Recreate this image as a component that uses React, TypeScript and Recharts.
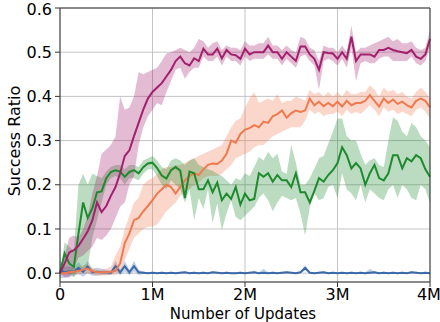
import React from 'react';
import { ComposedChart, Line, Area, XAxis, YAxis, CartesianGrid, ReferenceLine, Label } from 'recharts';

const STEP = 50000;
const xTicks = [0, 1000000, 2000000, 3000000, 4000000];
const xTickLabels = ['0', '1M', '2M', '3M', '4M'];
const yTicks = [0, 0.1, 0.2, 0.3, 0.4, 0.5, 0.6];

// magenta run
const magentaMean = [
  0, 0.022, 0.047, 0.052, 0.062, 0.078, 0.095, 0.12, 0.16, 0.138,
  0.152, 0.175, 0.195, 0.226, 0.265, 0.278, 0.31, 0.34, 0.37, 0.395,
  0.41, 0.42, 0.43, 0.445, 0.46, 0.48, 0.49, 0.475, 0.47, 0.486,
  0.48, 0.508, 0.495, 0.495, 0.508, 0.486, 0.505, 0.495, 0.493, 0.485,
  0.508, 0.495, 0.5, 0.5, 0.5, 0.515, 0.5, 0.5, 0.485, 0.5,
  0.49, 0.48, 0.513, 0.513, 0.495, 0.485, 0.46, 0.5, 0.498, 0.497,
  0.485, 0.5, 0.485, 0.535, 0.48, 0.495, 0.495, 0.495, 0.49, 0.505,
  0.505, 0.51, 0.505, 0.502, 0.5, 0.498, 0.505, 0.49, 0.485, 0.495,
  0.53,
];
const magentaLo = [
  0, -0.01, -0.01, 0.01, 0.035, 0.04, 0.05, 0.06, 0.08, 0.075,
  0.085, 0.1, 0.125, 0.15, 0.16, 0.2, 0.22, 0.29, 0.33, 0.355,
  0.37, 0.385, 0.38, 0.41, 0.435, 0.46, 0.465, 0.44, 0.455, 0.465,
  0.465, 0.49, 0.48, 0.48, 0.49, 0.47, 0.49, 0.48, 0.48, 0.47,
  0.49, 0.48, 0.485, 0.485, 0.485, 0.495, 0.485, 0.485, 0.47, 0.485,
  0.475, 0.465, 0.49, 0.495, 0.48, 0.47, 0.415, 0.48, 0.485, 0.48,
  0.47, 0.485, 0.465, 0.51, 0.435, 0.475, 0.48, 0.475, 0.475, 0.485,
  0.49, 0.49, 0.48, 0.48, 0.48, 0.48, 0.49, 0.475, 0.47, 0.48,
  0.51,
];
const magentaHi = [
  0, 0.04, 0.08, 0.085, 0.08, 0.1, 0.13, 0.18, 0.22, 0.27,
  0.28, 0.29, 0.31, 0.4, 0.37, 0.375, 0.4, 0.455, 0.45, 0.455,
  0.46, 0.465, 0.48, 0.497, 0.5, 0.505, 0.51, 0.505, 0.5, 0.51,
  0.53, 0.525, 0.51, 0.52, 0.525, 0.505, 0.515, 0.51, 0.51, 0.505,
  0.525, 0.515, 0.515, 0.52, 0.52, 0.535, 0.515, 0.515, 0.505, 0.515,
  0.505, 0.5, 0.535, 0.53, 0.51, 0.505, 0.48, 0.515, 0.51, 0.51,
  0.5, 0.515, 0.5, 0.56, 0.5, 0.51, 0.51, 0.515, 0.52, 0.525,
  0.53, 0.535, 0.525, 0.53, 0.52, 0.52, 0.525, 0.51, 0.505, 0.51,
  0.55,
];

// orange run
const orangeMean = [
  0, 0, 0.002, 0.003, 0.005, 0.008, 0.01, 0.005, 0.002, 0.002,
  0.002, 0.003, 0.005, 0.022, 0.068, 0.09, 0.12, 0.125, 0.14, 0.152,
  0.165, 0.18, 0.19, 0.2, 0.195, 0.18, 0.195, 0.21, 0.22, 0.226,
  0.222, 0.235, 0.245, 0.248, 0.247, 0.255, 0.27, 0.3, 0.295, 0.315,
  0.325, 0.328, 0.335, 0.33, 0.343, 0.34, 0.355, 0.36, 0.368, 0.352,
  0.362, 0.368, 0.365, 0.368, 0.395, 0.38, 0.388, 0.378, 0.385, 0.378,
  0.388, 0.377, 0.39, 0.38, 0.385, 0.385, 0.39, 0.403, 0.39, 0.377,
  0.395, 0.385, 0.393, 0.383, 0.388, 0.38, 0.375, 0.39, 0.395, 0.39,
  0.375,
];
const orangeLo = [
  0, -0.005, -0.005, -0.003, -0.003, 0, 0, -0.003, -0.005, -0.005,
  -0.005, -0.004, -0.005, 0.005, 0.03, 0.055, 0.08, 0.09, 0.1, 0.105,
  0.105, 0.11, 0.125, 0.14, 0.15, 0.16, 0.175, 0.185, 0.19, 0.2,
  0.205, 0.215, 0.22, 0.22, 0.22, 0.225, 0.235, 0.245, 0.26, 0.265,
  0.27, 0.275, 0.285, 0.29, 0.29, 0.3, 0.31, 0.315, 0.32, 0.325,
  0.33, 0.33, 0.33, 0.345, 0.37, 0.36, 0.365, 0.355, 0.36, 0.36,
  0.365, 0.355, 0.37, 0.36, 0.365, 0.36, 0.37, 0.38, 0.37, 0.355,
  0.375, 0.365, 0.37, 0.36, 0.365, 0.36, 0.355, 0.37, 0.375, 0.365,
  0.35,
];
const orangeHi = [
  0, 0.005, 0.008, 0.01, 0.012, 0.018, 0.02, 0.012, 0.008, 0.008,
  0.01, 0.015, 0.04, 0.06, 0.1, 0.13, 0.16, 0.17, 0.2, 0.21,
  0.215, 0.225, 0.235, 0.24, 0.24, 0.245, 0.245, 0.25, 0.255, 0.26,
  0.265, 0.27, 0.275, 0.28, 0.285, 0.29, 0.31, 0.33, 0.345, 0.35,
  0.375, 0.395, 0.41, 0.385, 0.39, 0.395, 0.39, 0.405, 0.385, 0.39,
  0.39, 0.4, 0.395, 0.39, 0.415, 0.405, 0.41, 0.4, 0.41, 0.4,
  0.41, 0.4, 0.415, 0.405, 0.405, 0.41, 0.41, 0.425, 0.415, 0.4,
  0.42, 0.41, 0.415, 0.405, 0.41, 0.4, 0.395, 0.41, 0.42, 0.41,
  0.395,
];

// green run
const greenMean = [
  0, 0.045, 0.022, 0.014, 0.09, 0.16, 0.125, 0.147, 0.183, 0.185,
  0.215, 0.229, 0.233, 0.23, 0.218, 0.229, 0.233, 0.226, 0.24, 0.248,
  0.25, 0.238, 0.221, 0.214, 0.233, 0.24, 0.232, 0.17, 0.23, 0.226,
  0.19, 0.19, 0.21, 0.183, 0.205, 0.165, 0.18, 0.168, 0.195, 0.155,
  0.18, 0.165, 0.168, 0.226, 0.218, 0.226, 0.207, 0.222, 0.21, 0.21,
  0.195, 0.226, 0.183, 0.183, 0.16, 0.186, 0.215, 0.207, 0.222, 0.233,
  0.249, 0.285, 0.267, 0.237, 0.249, 0.237, 0.2, 0.226, 0.245, 0.215,
  0.21, 0.226, 0.267, 0.267, 0.237, 0.26, 0.253, 0.267, 0.26, 0.235,
  0.218,
];
const greenLo = [
  0, 0, 0, -0.01, 0.01, 0.01, 0.015, 0.08, 0.12, 0.16,
  0.2, 0.215, 0.22, 0.215, 0.2, 0.215, 0.215, 0.21, 0.225, 0.235,
  0.235, 0.22, 0.2, 0.19, 0.21, 0.2, 0.19, 0.16, 0.19, 0.12,
  0.17, 0.145, 0.19, 0.113, 0.158, 0.097, 0.135, 0.165, 0.127, 0.12,
  0.13, 0.14, 0.15, 0.17, 0.18, 0.165, 0.14, 0.16, 0.175, 0.17,
  0.165, 0.17, 0.135, 0.085, 0.148, 0.18, 0.165, 0.17, 0.195, 0.2,
  0.17, 0.226, 0.19, 0.18, 0.165, 0.2, 0.16, 0.19, 0.18, 0.17,
  0.165, 0.19, 0.2, 0.17, 0.2, 0.19, 0.17, 0.165, 0.2, 0.19,
  0.158,
];
const greenHi = [
  0, 0.07, 0.06, 0.05, 0.2, 0.225, 0.2, 0.225, 0.22, 0.215,
  0.23, 0.24, 0.245, 0.245, 0.235, 0.245, 0.245, 0.24, 0.255, 0.26,
  0.265, 0.255, 0.24, 0.235, 0.255, 0.26, 0.255, 0.245, 0.255, 0.26,
  0.245, 0.24, 0.235, 0.232, 0.225, 0.22, 0.21, 0.2, 0.215, 0.21,
  0.226, 0.22, 0.24, 0.263, 0.255, 0.275, 0.26, 0.27, 0.23, 0.225,
  0.29, 0.25, 0.2, 0.2, 0.215, 0.237, 0.26, 0.265, 0.293, 0.32,
  0.35, 0.35, 0.31, 0.3, 0.3, 0.27, 0.245, 0.255, 0.26, 0.245,
  0.24, 0.3, 0.353, 0.345, 0.32, 0.31, 0.34, 0.33, 0.31, 0.3,
  0.285,
];

// blue run
const blueMean = [
  0.008, 0.002, 0.004, 0.003, 0.012, 0.003, 0.015, 0.002, 0.003, 0.002,
  0.002, 0.001, 0.016, 0.002, 0.016, 0.002, 0.016, 0.002, 0.001, 0,
  0.001, 0, 0.001, 0, 0.001, 0, 0.001, 0.002, 0, 0.001,
  0, 0.001, 0, 0.002, 0.001, 0, 0.001, 0, 0, 0.001,
  0, 0.001, 0.002, 0, 0.001, 0, 0.001, 0, 0.001, 0.002,
  0.001, 0, 0.002, 0.012, 0.001, 0, 0.001, 0.002, 0, 0.001,
  0, 0.001, 0, 0.001, 0, 0.001, 0, 0.001, 0.002, 0,
  0.001, 0, 0.001, 0, 0.001, 0, 0.002, 0.001, 0, 0.001,
  0,
];
const blueLo = [
  -0.012, -0.01, -0.008, -0.006, -0.002, -0.008, 0, -0.006, -0.006, -0.005,
  -0.004, -0.004, 0.004, -0.005, 0.004, -0.005, 0.004, -0.004, -0.002, -0.001,
  -0.001, -0.001, -0.001, -0.001, -0.001, -0.001, -0.001, 0, -0.001, -0.001,
  -0.001, -0.001, -0.001, 0, -0.001, -0.001, -0.001, -0.001, -0.001, -0.001,
  -0.001, -0.001, 0, -0.001, -0.001, -0.001, -0.001, -0.001, -0.001, 0,
  -0.001, -0.001, 0, 0.006, -0.001, -0.001, -0.001, 0, -0.001, -0.001,
  -0.001, -0.001, -0.001, -0.001, -0.001, -0.001, -0.001, -0.001, 0, -0.001,
  -0.001, -0.001, -0.001, -0.001, -0.001, -0.001, 0, -0.001, -0.001, -0.001,
  -0.001,
];
const blueHi = [
  0.03, 0.015, 0.015, 0.012, 0.025, 0.012, 0.028, 0.01, 0.012, 0.01,
  0.008, 0.006, 0.028, 0.008, 0.028, 0.008, 0.028, 0.008, 0.004, 0.002,
  0.003, 0.002, 0.003, 0.002, 0.003, 0.002, 0.003, 0.004, 0.002, 0.003,
  0.002, 0.003, 0.002, 0.004, 0.003, 0.002, 0.003, 0.002, 0.002, 0.003,
  0.002, 0.003, 0.004, 0.002, 0.01, 0.002, 0.003, 0.002, 0.003, 0.004,
  0.003, 0.002, 0.004, 0.018, 0.003, 0.002, 0.003, 0.004, 0.002, 0.003,
  0.002, 0.003, 0.002, 0.003, 0.002, 0.003, 0.002, 0.01, 0.004, 0.002,
  0.003, 0.002, 0.003, 0.002, 0.003, 0.002, 0.004, 0.003, 0.002, 0.003,
  0.002,
];

const MAGENTA = '#a2206e';
const ORANGE = '#ef7a4f';
const GREEN = '#1e8a2e';
const BLUE = '#3a6aa8';

const data = magentaMean.map((m, i) => ({
  step: i * STEP,
  magenta: m,
  magentaBand: [magentaLo[i], magentaHi[i]],
  orange: orangeMean[i],
  orangeBand: [orangeLo[i], orangeHi[i]],
  green: greenMean[i],
  greenBand: [greenLo[i], greenHi[i]],
  blue: blueMean[i],
  blueBand: [blueLo[i], blueHi[i]],
}));

const font = 'DejaVu Sans';
const tickStyle = { fill: '#000', fontSize: 16, fontFamily: font };

const App: React.FC = () => {
  const series = [
    { key: 'blue', color: BLUE },
    { key: 'orange', color: ORANGE },
    { key: 'green', color: GREEN },
    { key: 'magenta', color: MAGENTA },
  ];

  return (
    <div style={{ position: 'fixed', left: 0, top: 0, background: '#fff' }}>
      <ComposedChart
        width={440}
        height={322}
        data={data}
        margin={{ top: 8, right: 10, left: 0, bottom: 0 }}
        style={{ fontFamily: font }}
      >
        <CartesianGrid stroke="#c4c4c4" strokeWidth={1} />
        <XAxis
          dataKey="step"
          type="number"
          domain={[0, 4000000]}
          ticks={xTicks}
          tickFormatter={(v) => xTickLabels[xTicks.indexOf(v)]}
          height={40}
          tick={tickStyle}
          tickSize={5}
          tickMargin={2}
          stroke="#333"
        >
          <Label
            content={() => (
              <text x={243} y={318.5} textAnchor="middle" fontSize={15} fontFamily={font} fill="#000">
                Number of Updates
              </text>
            )}
          />
        </XAxis>
        <YAxis
          type="number"
          domain={[-0.02, 0.6]}
          ticks={yTicks}
          allowDataOverflow
          tickFormatter={(v) => v.toFixed(1)}
          width={60}
          tick={tickStyle}
          tickSize={5}
          tickMargin={3}
          stroke="#333"
        >
          <Label
            content={() => (
              <text
                x={19.5}
                y={141}
                transform="rotate(-90, 19.5, 141)"
                textAnchor="middle"
                fontSize={16}
                fontFamily={font}
                fill="#000"
              >
                Success Ratio
              </text>
            )}
          />
        </YAxis>
        {series.map((s) => (
          <Area
            key={s.key + 'Band'}
            dataKey={s.key + 'Band'}
            type="linear"
            stroke="none"
            fill={s.color}
            fillOpacity={0.3}
            isAnimationActive={false}
            activeDot={false}
          />
        ))}
        {series.map((s) => (
          <Line
            key={s.key}
            dataKey={s.key}
            type="linear"
            stroke={s.color}
            strokeWidth={2}
            dot={false}
            activeDot={false}
            isAnimationActive={false}
          />
        ))}
        <ReferenceLine y={0.6} stroke="#333" />
        <ReferenceLine x={4000000} stroke="#333" />
      </ComposedChart>
    </div>
  );
};

export default App;
